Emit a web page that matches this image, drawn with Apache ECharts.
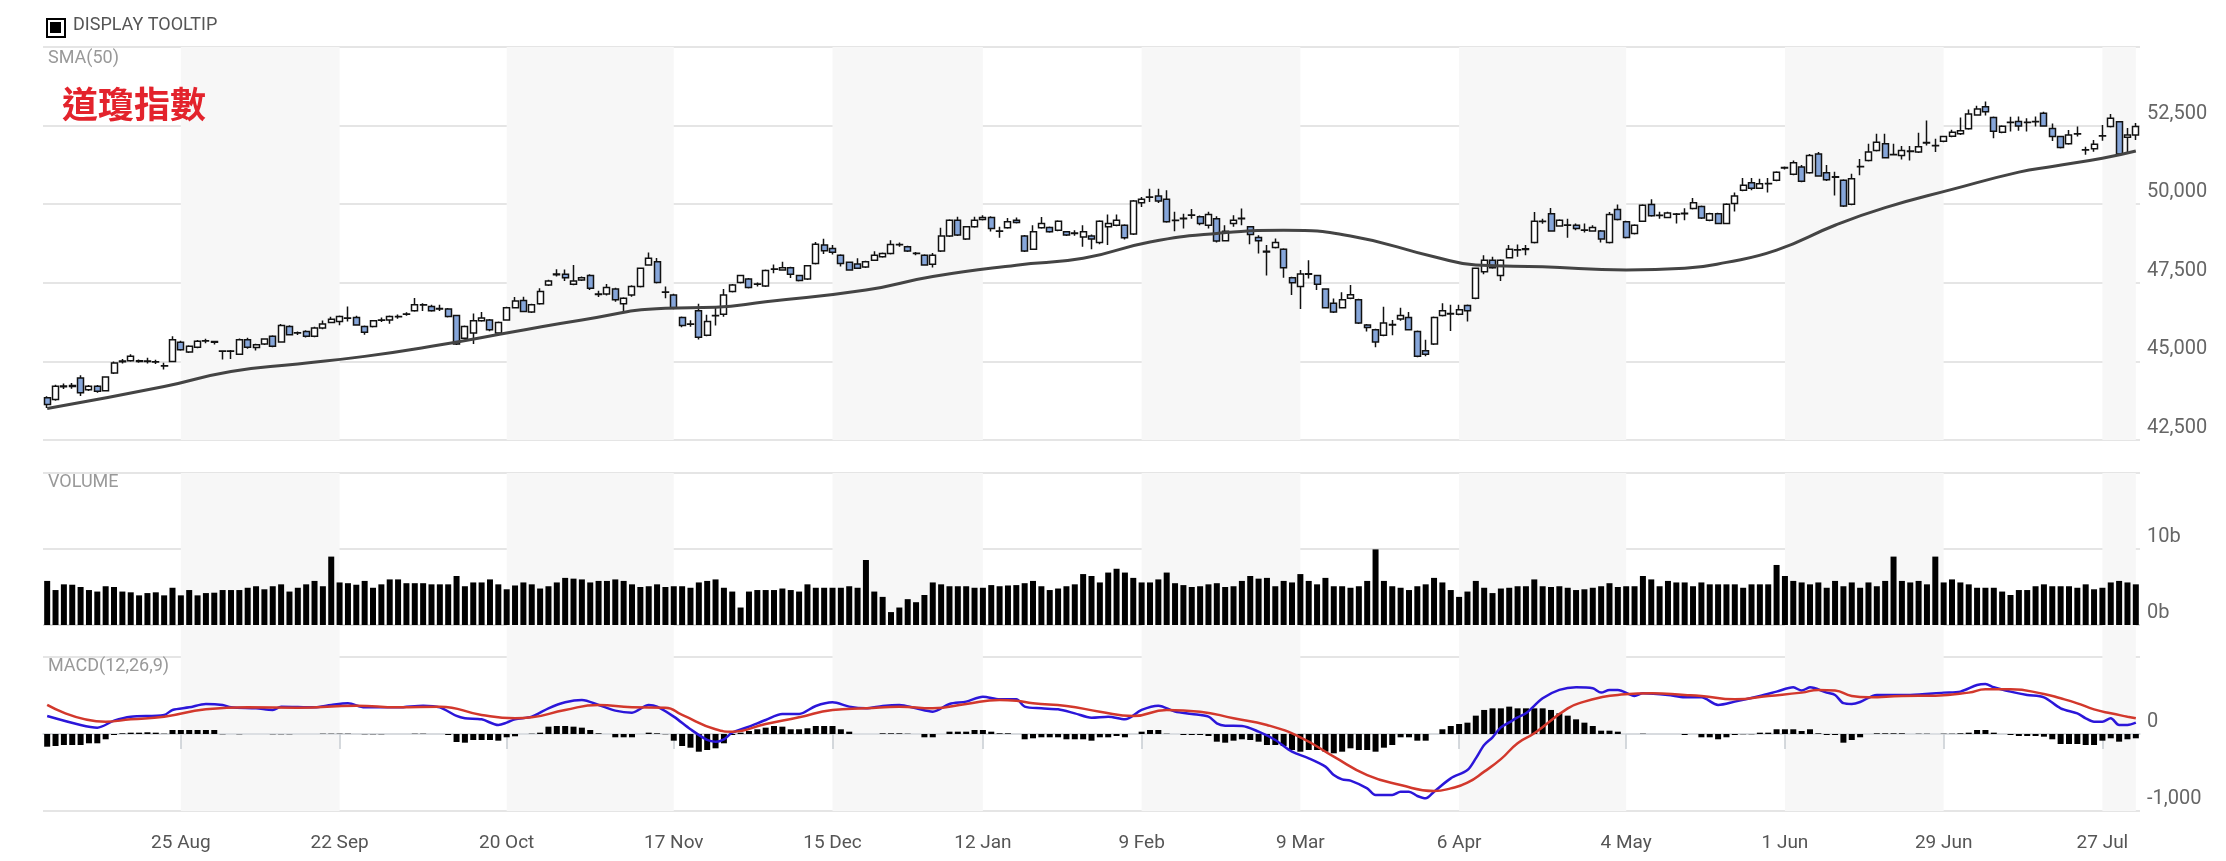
<!DOCTYPE html>
<html>
<head>
<meta charset="utf-8">
<title>道瓊指數</title>
<script src="https://cdn.jsdelivr.net/npm/echarts@6/dist/echarts.min.js"></script>
<style>
  html, body { margin: 0; padding: 0; background: #fff; }
  #mainView { width: 2226px; height: 861px; }
</style>
</head>
<body>
<div id="mainView"></div>
<script>
// trading days: weekdays from 1 Aug 2025 to 31 Jul 2026, minus NYSE holidays
var holidays = ['2025-09-01', '2025-11-27', '2025-12-25', '2026-01-01', '2026-01-19',
    '2026-02-16', '2026-04-03', '2026-05-25', '2026-06-19', '2026-07-03'];
var tickDates = ['2025-08-25', '2025-09-22', '2025-10-20', '2025-11-17', '2025-12-15',
    '2026-01-12', '2026-02-09', '2026-03-09', '2026-04-06', '2026-05-04',
    '2026-06-01', '2026-06-29', '2026-07-27'];
var months = ['Jan', 'Feb', 'Mar', 'Apr', 'May', 'Jun', 'Jul', 'Aug', 'Sep', 'Oct', 'Nov', 'Dec'];

// [open, close, low, high]
var candles = [
    [43840,43630,43520,43890],[43790,44210,43750,44260],[44190,44220,44120,44300],[44200,44230,44130,44310],[44470,44000,43900,44560],
    [44100,44210,44060,44250],[44210,44050,44000,44250],[44070,44500,44040,44520],[44630,44950,44600,45000],[44990,45010,44930,45080],
    [45020,45160,44990,45230],[45020,45000,44960,45060],[45010,45000,44930,45120],[44990,44980,44920,45050],[44860,44850,44740,44960],
    [45000,45690,44980,45800],[45610,45370,45340,45660],[45300,45480,45270,45510],[45450,45640,45420,45680],[45650,45660,45580,45720],
    [45630,45610,45540,45660],[45320,45330,45060,45340],[45330,45320,45080,45360],[45230,45690,45200,45730],[45690,45450,45400,45750],
    [45440,45530,45350,45560],[45550,45710,45520,45740],[45800,45480,45450,45830],[45620,46140,45600,46190],[46110,45850,45820,46150],
    [45900,45910,45840,45950],[45950,45800,45760,45990],[45800,46060,45770,46100],[46060,46190,46020,46300],[46240,46340,46210,46420],
    [46270,46430,46150,46460],[46370,46380,46270,46750],[46400,46160,46130,46450],[46110,45930,45850,46140],[46110,46290,46080,46320],
    [46310,46320,46250,46400],[46320,46430,46200,46460],[46420,46430,46360,46490],[46500,46510,46450,46560],[46610,46800,46580,47020],
    [46790,46800,46600,46850],[46750,46610,46580,46800],[46670,46680,46600,46800],[46670,46430,46400,46700],[46460,45550,45520,46480],
    [45740,46110,45700,46140],[45900,46290,45550,46520],[46290,46380,46260,46570],[46320,46010,45960,46350],[45900,46240,45880,46270],
    [46320,46710,46300,46740],[46710,46920,46690,47050],[46940,46590,46560,47060],[46570,46800,46540,46830],[46830,47220,46800,47330],
    [47430,47560,47400,47600],[47760,47780,47700,47930],[47770,47660,47560,47920],[47450,47560,47420,48070],[47590,47660,47560,47700],
    [47730,47330,47270,47770],[47130,47140,47050,47250],[47140,47350,47100,47460],[47300,46960,46900,47340],[46830,47010,46540,47040],
    [47110,47380,47060,47420],[47380,47960,47350,47990],[48070,48280,48040,48460],[48170,47510,47480,48290],[47200,47210,47010,47380],
    [47110,46710,46660,47150],[46400,46140,46090,46430],[46180,46190,46100,46310],[46610,45770,45700,46830],[45830,46270,45800,46480],
    [46450,46460,46140,46700],[46500,47110,46420,47300],[47220,47430,47190,47460],[47510,47730,47480,47760],[47620,47350,47320,47650],
    [47450,47460,47380,47510],[47400,47890,47370,47920],[47930,47940,47800,48080],[47910,47980,47880,48170],[47980,47770,47650,48010],
    [47730,47570,47540,47760],[47620,48040,47590,48070],[48110,48730,48080,48800],[48700,48520,48420,48900],[48590,48470,48400,48700],
    [48380,48110,48020,48410],[48150,47910,47880,48180],[48100,47960,47940,48280],[48000,48170,47970,48200],[48220,48380,48190,48500],
    [48330,48430,48300,48460],[48430,48720,48400,48850],[48710,48720,48650,48780],[48650,48510,48480,48680],[48440,48430,48380,48480],
    [48380,48070,48040,48410],[48090,48380,47990,48450],[48510,48990,48480,49250],[48990,49490,48960,49520],[49490,49020,48990,49600],
    [48890,49280,48860,49310],[49280,49490,49250,49600],[49510,49580,49480,49650],[49580,49230,49130,49620],[49140,49150,48930,49280],
    [49250,49440,49220,49560],[49490,49420,49390,49580],[48990,48510,48480,49020],[48570,49120,48540,49330],[49250,49390,49220,49590],
    [49260,49120,49090,49290],[49170,49460,49140,49490],[49120,49020,48990,49150],[49070,49080,49000,49170],[48960,49120,48650,49330],
    [48990,48890,48570,49040],[48780,49460,48730,49490],[49280,49390,48700,49670],[49330,49490,49300,49670],[49330,48930,48880,49360],
    [49050,50100,49020,50130],[50050,50160,49910,50230],[50220,50230,50070,50490],[50260,50100,50040,50490],[50160,49440,49410,50440],
    [49480,49490,49140,49760],[49540,49550,49230,49700],[49650,49660,49540,49850],[49600,49390,49330,49640],[49330,49670,49230,49760],
    [49540,48830,48780,49620],[48840,49140,48810,49330],[49390,49490,49280,49650],[49540,49550,49330,49860],[49280,49040,48730,49310],
    [48940,48840,48430,49010],[48480,48500,47730,48700],[48620,48780,48590,48910],[48570,47980,47660,48600],[47660,47500,47110,47690],
    [47380,47780,46670,47910],[47770,47790,47640,48220],[47730,47450,47270,47760],[47300,46710,46680,47330],[46850,46570,46540,47000],
    [46710,46960,46680,47200],[47010,47120,46980,47430],[46960,46220,46190,46990],[46160,46080,45950,46190],[46010,45620,45450,46040],
    [45830,46220,45800,46740],[46160,46170,45830,46320],[46350,46460,46290,46710],[46400,46010,45980,46570],[45950,45160,45130,45980],
    [45340,45230,45160,45690],[45550,46400,45520,46430],[46460,46610,46430,46850],[46510,46520,45970,46800],[46500,46640,46470,46800],
    [46780,46610,46270,46810],[47010,47960,46980,47990],[47850,48220,47770,48380],[48220,47980,47950,48330],[47730,48220,47560,48250],
    [48300,48570,48270,48700],[48540,48550,48330,48720],[48560,48580,48380,48700],[48780,49460,48750,49750],[49450,49460,49380,49540],
    [49700,49150,49120,49880],[49310,49490,49280,49520],[49330,49340,48930,49540],[49330,49230,49170,49390],[49170,49180,49100,49390],
    [49150,49260,49120,49330],[49150,48890,48780,49180],[48780,49670,48750,49750],[49830,49510,49480,49990],[49440,48940,48910,49470],
    [49070,49330,49040,49360],[49460,49970,49430,50000],[49990,49630,49600,50160],[49640,49650,49540,49760],[49580,49720,49550,49760],
    [49680,49690,49390,49720],[49700,49710,49490,49870],[49860,50050,49830,50200],[49930,49560,49530,49960],[49490,49700,49460,49730],
    [49700,49390,49360,49730],[49390,50000,49360,50030],[50020,50260,49770,50370],[50440,50600,50410,50830],[50680,50510,50440,50830],
    [50510,50650,50480,50810],[50650,50660,50370,50830],[50760,51020,50730,51050],[51150,51170,51100,51200],[50950,51320,50920,51390],
    [51180,50730,50700,51250],[51000,51550,50970,51600],[51600,50900,50870,51660],[51000,50780,50740,51250],[50860,50870,50280,51030],
    [50760,49940,49910,50790],[50000,50810,49970,50970],[51190,51200,50920,51440],[51390,51660,51360,51920],[51710,51970,51680,52240],
    [51920,51480,51450,52240],[51570,51580,51550,51920],[51550,51710,51420,51850],[51680,51690,51390,51850],[51660,51830,51630,52270],
    [51950,51960,51870,52660],[51860,51870,51660,52080],[52000,52150,51970,52180],[52160,52290,52130,52370],[52240,52340,52200,52760],
    [52400,52870,52370,53010],[52840,53030,52810,53130],[53100,52940,52820,53270],[52760,52320,52100,52790],[52290,52480,52260,52510],
    [52600,52610,52310,52780],[52630,52490,52340,52790],[52600,52610,52310,52730],[52620,52630,52470,52790],[52890,52490,52460,52940],
    [52410,52150,52010,52570],[52150,51800,51770,52180],[51920,52200,51890,52360],[52230,52240,52150,52470],[51720,51730,51570,51830],
    [51760,51910,51670,52040],[52170,52180,52020,52520],[52470,52730,52440,52870],[52620,51600,51570,52650],[52130,52200,51620,52420],
    [52200,52470,52040,52580]
];

// volume in billions
var volumes = [
    5.8,4.6,5.35,5.3,5.0,4.6,4.4,5.1,5.0,4.4, 4.3,3.9,4.2,4.3,3.9,4.9,3.9,4.6,3.9,4.2,
    4.25,4.6,4.6,4.6,4.9,5.1,4.7,5.1,5.35,4.4, 4.9,5.35,5.8,5.1,9.0,5.6,5.5,5.3,5.8,4.9,
    5.35,6.0,6.0,5.5,5.5,5.5,5.35,5.35,5.35,6.45, 5.1,5.6,5.6,6.0,5.35,4.7,5.2,5.6,5.35,4.8,
    5.1,5.6,6.2,6.1,6.0,5.6,5.8,5.8,6.0,5.8, 5.35,5.0,5.1,5.35,5.0,5.1,5.1,4.9,5.6,5.8,
    6.0,4.9,4.4,2.3,4.4,4.6,4.6,4.6,4.8,4.6, 4.4,5.35,4.9,4.9,4.9,4.9,5.1,4.9,8.55,4.4,
    3.7,1.7,2.3,3.4,3.0,3.95,5.6,5.35,5.1,5.1, 5.1,4.9,4.9,5.25,5.1,5.2,5.25,5.5,5.8,5.1,
    4.6,4.8,5.1,5.35,6.7,6.45,5.6,6.9,7.4,6.9, 6.2,5.6,5.6,6.0,6.9,5.5,5.25,5.0,5.1,5.35,
    5.5,5.0,5.1,5.8,6.45,6.1,6.2,5.1,5.8,5.6, 6.7,5.8,5.35,6.2,5.1,5.1,4.9,5.1,5.8,9.95,
    5.8,5.1,4.9,4.6,5.1,5.35,6.2,5.6,4.6,3.7, 4.4,5.8,4.9,4.2,4.8,4.9,5.1,5.1,6.0,5.1,
    5.0,5.1,4.9,4.6,4.7,4.9,5.1,5.5,5.0,5.1, 5.1,6.45,6.0,5.1,5.8,5.6,5.6,5.1,5.6,5.35,
    5.35,5.35,5.35,4.9,5.35,5.35,5.35,7.9,6.45,5.8, 5.6,5.35,5.6,4.9,5.8,5.1,5.6,4.9,5.6,5.1,
    5.8,9.0,5.8,5.6,5.8,5.35,9.0,5.6,6.0,5.6, 5.35,4.9,4.9,4.9,4.4,3.95,4.6,4.6,5.1,5.35,
    5.1,5.1,5.1,4.9,5.35,4.7,4.9,5.6,5.8,5.6, 5.35
];

// SMA(50) read at sampled trading-day indexes
var smaIdx = [0, 14, 22, 30, 38, 46, 56, 64, 74, 80, 86, 98, 106, 116, 124, 132, 140, 148, 156,
    166, 171, 179, 189, 196, 201, 207, 214, 220, 228, 236, 240, 246, 250];
var smaVal = [43500, 44200, 44680, 44920, 45160, 45480, 45950, 46320, 46690, 46720, 46900, 47270,
    47700, 48060, 48280, 48800, 49070, 49170, 48990, 48330, 48070, 48010, 47910, 47960, 48150,
    48540, 49330, 49890, 50470, 51020, 51200, 51460, 51690];

// MACD(12,26,9) line, signal line, histogram
var macdIdx = [0, 4, 6, 8, 10, 14, 15, 17, 19, 21, 22, 25, 27, 28, 32, 34, 36, 38, 42, 45, 47, 49, 50,
    52, 54, 55, 56, 58, 60, 62, 64, 66, 68, 70, 72, 73, 75, 77, 79, 80, 81, 82, 84, 86, 88, 90, 92,
    94, 96, 98, 100, 102, 104, 106, 108, 110, 112, 114, 116, 117, 119, 121, 123, 125, 127, 129, 131,
    133, 135, 137, 139, 140, 141, 143, 145, 147, 149, 151, 153, 154, 155, 156, 158, 159, 161, 162,
    163, 164, 165, 166, 168, 170, 171, 172, 173, 174, 175, 176, 177, 179, 181, 183, 185, 186, 187,
    188, 190, 191, 194, 196, 198, 200, 202, 205, 207, 209, 210, 211, 213, 214, 215, 216, 217, 219,
    223, 227, 229, 231, 232, 233, 235, 237, 239, 241, 243, 244, 245, 246, 247, 248, 249, 250];
var macdVal = [234, 117, 82, 173, 225, 247, 312, 346, 390, 377, 346, 333, 312, 355, 346, 377, 398, 346,
    346, 368, 346, 234, 204, 190, 117, 147, 190, 225, 333, 411, 442, 377, 303, 277, 377, 355, 225,
    61, -78, -100, -69, 17, 95, 182, 260, 260, 364, 411, 355, 333, 364, 377, 333, 290, 390, 420, 485,
    450, 450, 355, 333, 320, 268, 212, 225, 190, 312, 368, 290, 260, 225, 139, 108, 104, 30, -78,
    -230, -316, -424, -533, -589, -606, -706, -792, -792, -749, -749, -805, -836, -749, -576, -468,
    -316, -143, -43, 85, 150, 215, 268, 463, 572, 606, 593, 537, 572, 572, 494, 528, 507, 476, 476,
    377, 420, 494, 550, 606, 563, 606, 537, 507, 400, 390, 415, 507, 507, 537, 550, 636, 650, 606,
    550, 507, 476, 333, 268, 204, 160, 160, 204, 117, 117, 147];
var signalIdx = [0, 7, 10, 14, 19, 24, 30, 37, 42, 47, 52, 56, 58, 62, 66, 70, 74, 76, 80, 82, 86, 90,
    94, 98, 102, 106, 110, 114, 116, 118, 122, 126, 130, 134, 138, 142, 146, 150, 154, 158, 162, 166,
    168, 170, 172, 174, 176, 178, 182, 184, 186, 188, 192, 196, 198, 202, 206, 210, 212, 214, 216,
    218, 222, 226, 230, 232, 235, 239, 241, 243, 245, 247, 249, 250];
var signalVal = [377, 160, 190, 225, 320, 346, 342, 368, 346, 355, 247, 204, 216, 312, 377, 346, 342,
    247, 61, 30, 130, 216, 312, 333, 355, 333, 390, 442, 433, 398, 364, 290, 234, 312, 290, 204, 117,
    -43, -294, -533, -662, -740, -706, -632, -489, -327, -120, 9, 333, 420, 476, 507, 528, 507, 494,
    450, 494, 537, 572, 563, 494, 476, 494, 498, 537, 580, 580, 520, 463, 398, 320, 268, 225, 204];
var histVals = [
    -165,-156,-143,-143,-143,-121,-121,-69,-13,9, 17,17,22,17,4,52,52,52,52,52,
    52,-4,0,-4,0,0,0,-4,-4,-4, 0,0,0,4,4,4,4,0,-4,-4,
    -4,0,0,0,4,4,0,0,-13,-104, -113,-78,-78,-78,-87,-43,-30,0,4,17,
    95,104,104,95,82,52,9,0,-43,-43, -43,0,17,9,-4,-87,-156,-178,-230,-208,
    -186,-121,-13,17,39,61,82,104,95,61, 61,74,104,104,104,61,30,0,0,0,
    9,9,9,4,0,-43,-43,0,30,30, 30,52,52,30,9,9,0,-69,-56,-43,
    -43,-43,-69,-69,-69,-87,-43,-43,-26,-43, 0,30,52,52,4,0,-13,-13,-13,-26,
    -100,-113,-87,-69,-78,-100,-143,-143,-156,-208, -230,-208,-208,-230,-251,-230,-186,-208,-208,-230,
    -178,-143,-43,-43,-87,-87,0,61,104,130, 147,238,312,333,333,355,333,333,333,333,
    312,268,238,190,147,104,43,43,30,0, 0,4,0,0,0,0,-13,0,-43,-43,
    -69,-43,-13,-4,-4,17,17,61,61,61, 39,61,9,-13,-13,-113,-78,-43,0,9,
    9,9,9,0,4,4,0,4,4,9, 17,52,52,17,0,-13,-26,-26,-26,-35,
    -69,-130,-130,-130,-143,-143,-87,-56,-100,-69, -56
];

function tradingDays() {
    var out = [];
    for (var t = Date.UTC(2025, 7, 1); t <= Date.UTC(2026, 6, 31); t += 86400000) {
        var d = new Date(t);
        var wd = d.getUTCDay();
        var s = d.toISOString().slice(0, 10);
        if (wd === 0 || wd === 6 || holidays.indexOf(s) >= 0) continue;
        out.push(s);
    }
    return out;
}

function comma(v) {
    return String(v).replace(/\B(?=(\d{3})+(?!\d))/g, ',');
}

function pairs(idx, vals) {
    return idx.map(function (d, k) { return [d, vals[k]]; });
}

showMainView();

function showMainView() {
    var dates = tradingDays();
    var last = dates.length - 1;
    var isTick = function (i, v) { return tickDates.indexOf(v) >= 0; };
    var isBand = function (i, v) { return i === 0 || i === last || tickDates.indexOf(v) >= 0; };
    var font = 'Roboto, "Noto Sans", sans-serif';
    var gridLine = { lineStyle: { color: '#dddddd', width: 1.5 } };
    var bands = { show: true, interval: isBand, alignWithLabel: true,
        areaStyle: { color: ['rgba(255,255,255,0)', '#f7f7f7'] } };

    var xBase = function (grid) {
        return {
            type: 'category', gridIndex: grid, data: dates, boundaryGap: true,
            axisLine: { show: false }, axisTick: { show: false }, axisLabel: { show: false },
            splitLine: { show: false }, splitArea: bands
        };
    };
    var xBottom = xBase(2);
    xBottom.offset = 7;
    xBottom.axisLine = { show: true, lineStyle: { color: '#d3d8dd', width: 1.5 } };
    xBottom.axisTick = { show: true, interval: isTick, alignWithLabel: true, length: 15,
        lineStyle: { color: '#c8cdd2', width: 1.5 } };
    xBottom.axisLabel = {
        show: true, interval: isTick, margin: 16, color: '#555', fontSize: 19, fontFamily: font,
        formatter: function (v) {
            var p = v.split('-');
            return (+p[2]) + ' ' + months[+p[1] - 1];
        }
    };

    var yLabel = function (fmt) {
        return { show: true, color: '#666', fontSize: 20, fontFamily: font, margin: 7,
            align: 'left', verticalAlign: 'bottom', lineHeight: 24, showMaxLabel: false, formatter: fmt };
    };

    var chart = echarts.init(document.getElementById('mainView'), null, { renderer: 'canvas' });
    chart.setOption({
        animation: false,
        backgroundColor: '#ffffff',
        grid: [
            { left: 43, right: 86, top: 47, height: 393 },
            { left: 43, right: 86, top: 473, height: 152 },
            { left: 43, right: 86, top: 625, height: 186 }
        ],
        xAxis: [xBase(0), xBase(1), xBottom],
        yAxis: [
            { type: 'value', gridIndex: 0, position: 'right', min: 42500, max: 55000, interval: 2500,
                axisLine: { show: false }, axisTick: { show: false }, splitLine: gridLine,
                axisLabel: yLabel(function (v) { return comma(v); }) },
            { type: 'value', gridIndex: 1, position: 'right', min: 0, max: 20, interval: 10,
                axisLine: { show: false }, axisTick: { show: false }, splitLine: gridLine,
                axisLabel: yLabel(function (v) { return v + 'b'; }) },
            { type: 'value', gridIndex: 2, position: 'right', min: -1000, max: 1415, interval: 1000,
                axisLine: { show: false }, axisTick: { show: false }, splitLine: gridLine,
                axisLabel: yLabel(function (v) { return (v === 0 || v === -1000) ? comma(v) : ''; }) }
        ],
        graphic: [
            { type: 'rect', z: 100, left: 46, top: 18, shape: { width: 18, height: 18 },
                style: { fill: '#fff', stroke: '#000', lineWidth: 2 } },
            { type: 'rect', z: 101, left: 50, top: 22, shape: { width: 11, height: 11 }, style: { fill: '#000' } },
            { type: 'text', z: 100, left: 73, top: 16, style: { text: 'DISPLAY TOOLTIP', fill: '#555',
                font: '18px ' + font } },
            { type: 'text', z: 100, left: 48, top: 49, style: { text: 'SMA(50)', fill: '#999', font: '18px ' + font } },
            { type: 'text', z: 100, left: 62, top: 86, style: { text: '道瓊指數', fill: '#e3232c',
                font: 'bold 36px "Noto Sans CJK TC", sans-serif' } },
            { type: 'text', z: 100, left: 48, top: 473, style: { text: 'VOLUME', fill: '#999', font: '18px ' + font } },
            { type: 'text', z: 100, left: 48, top: 657, style: { text: 'MACD(12,26,9)', fill: '#999', font: '18px ' + font } }
        ],
        series: [
            {
                name: 'DJI', type: 'candlestick', xAxisIndex: 0, yAxisIndex: 0, barWidth: 6.5,
                itemStyle: { color: '#ffffff', color0: '#86a6da', borderColor: '#111', borderColor0: '#111',
                    borderWidth: 1.5 },
                data: candles
            },
            {
                name: 'SMA(50)', type: 'line', xAxisIndex: 0, yAxisIndex: 0, smooth: true, symbol: 'none',
                lineStyle: { color: '#444', width: 3 }, z: 3,
                data: pairs(smaIdx, smaVal)
            },
            {
                name: 'Volume', type: 'bar', xAxisIndex: 1, yAxisIndex: 1, barWidth: 6,
                itemStyle: { color: '#000' },
                data: volumes
            },
            {
                name: 'Histogram', type: 'bar', xAxisIndex: 2, yAxisIndex: 2, barWidth: 6,
                itemStyle: { color: '#000' },
                data: histVals
            },
            {
                name: 'MACD', type: 'line', xAxisIndex: 2, yAxisIndex: 2, smooth: 0.3, symbol: 'none',
                lineStyle: { color: '#2b16d9', width: 2.5 },
                data: pairs(macdIdx, macdVal)
            },
            {
                name: 'Signal', type: 'line', xAxisIndex: 2, yAxisIndex: 2, smooth: true, symbol: 'none',
                lineStyle: { color: '#d2382c', width: 2.5 },
                data: pairs(signalIdx, signalVal)
            }
        ]
    });
}
</script>
</body>
</html>
